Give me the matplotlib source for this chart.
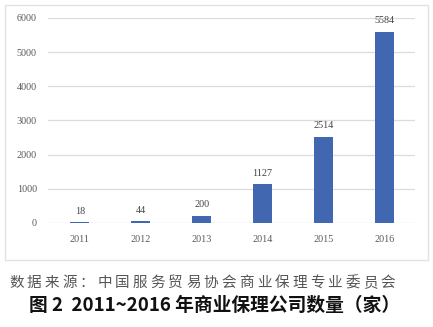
import matplotlib.pyplot as plt
from matplotlib.patches import Rectangle

years = ["2011", "2012", "2013", "2014", "2015", "2016"]
counts = [18, 44, 200, 1127, 2514, 5584]
yticks = [0, 1000, 2000, 3000, 4000, 5000, 6000]

source_text = "数据来源：中国服务贸易协会商业保理专业委员会"
caption = "图 2  2011~2016 年商业保理公司数量（家）"

W, H = 433, 327
fig = plt.figure(figsize=(W / 100, H / 100), dpi=100)
fig.patch.set_facecolor("white")

# light frame round the chart
fig.patches.append(Rectangle((5 / W, 1 - 260 / H), 423 / W, 255 / H,
                             transform=fig.transFigure, fill=False,
                             edgecolor="#e2e2e2", linewidth=1.0))

ax = fig.add_axes([48 / W, 1 - 223 / H, (415 - 48) / W, 205 / H])
x = range(len(years))
ax.bar(x, counts, width=0.32, color="#4167b1", zorder=3)
ax.set_xlim(-0.52, 5.5)
ax.set_ylim(0, 6000)
ax.set_yticks(yticks)
ax.set_xticks(list(x))
ax.set_xticklabels(years)
ax.yaxis.grid(True, color="#dcdcdc", linewidth=0.9, zorder=0)
for s in ax.spines.values():
    s.set_visible(False)
ax.tick_params(length=0, labelsize=7.3, labelcolor="#5a5a5a")
ax.tick_params(axis="x", pad=9)
ax.tick_params(axis="y", pad=8)
for lab in ax.get_xticklabels() + ax.get_yticklabels():
    lab.set_family("Liberation Serif")

for i, v in enumerate(counts):
    ax.text(i, v + 200, str(v), ha="center", va="bottom",
            fontsize=7.3, color="#444444", family="Liberation Serif")

# source line, spaced out character by character
x0 = 9
for ch in source_text:
    fig.text(x0 / W, 1 - 283 / H, ch, fontsize=10.5, color="#555555",
             family=["Noto Sans CJK SC", "DejaVu Sans"], va="center", ha="left")
    x0 += 17.7

fig.text(215 / W, 1 - 305 / H, caption, fontsize=13.5, fontweight="bold",
         color="#111111", family=["Noto Sans CJK SC", "DejaVu Sans"],
         ha="center", va="center")

fig.savefig("out.png", dpi=100)
